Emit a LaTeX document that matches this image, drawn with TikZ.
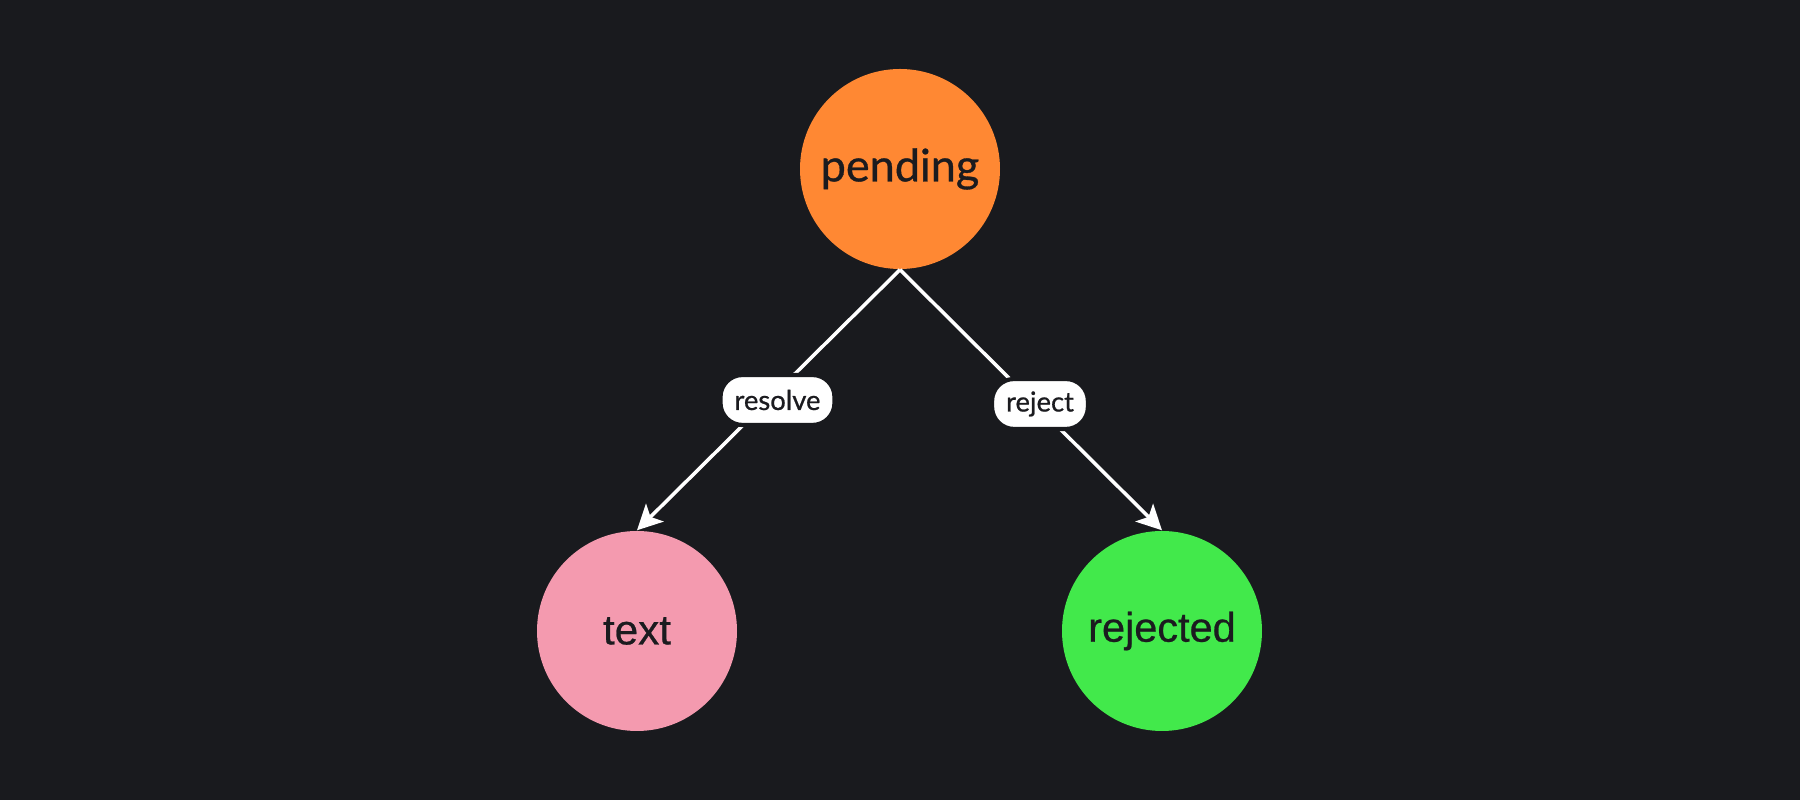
\documentclass[tikz,border=0pt]{standalone}
\usepackage{fontspec}
\setmainfont{Lato}[FakeBold=0.7]
\newfontfamily\arialfont{Liberation Sans}[FakeBold=0.6]
\usepackage{tikz}
\usetikzlibrary{arrows.meta,positioning}
\definecolor{bgdark}{RGB}{25,26,30}
\definecolor{inkdark}{RGB}{27,27,31}
\definecolor{pendingorange}{RGB}{255,136,51}
\definecolor{textpink}{RGB}{244,154,175}
\definecolor{rejectgreen}{RGB}{66,233,75}

\begin{document}
\begin{tikzpicture}[node distance=4cm,on grid,
  >={Stealth[length=2.5mm,width=2.5mm,inset=0.6mm]},
  promise/.style={circle,minimum size=2cm,inner sep=0pt,text=inkdark},
  arrowlabel/.style={fill=white,draw=bgdark,line width=1.2pt,rounded corners=2.2mm,
    minimum height=5mm,inner xsep=1.4mm,inner ysep=0pt,text=inkdark,
    font=\fontsize{7.8}{9}\selectfont}]
  \fill[bgdark] (0,0) rectangle (18,8);
  \node[promise,fill=pendingorange,font=\fontsize{12.8}{15}\selectfont] (pending) at (9,6.31) {pending};
  \node[promise,fill=textpink,font=\arialfont\fontsize{12}{14}\selectfont] (text) [below left=4.62cm and 2.63cm of pending] {text};
  \node[promise,fill=rejectgreen,font=\arialfont\fontsize{11.8}{14}\selectfont] (rejected) [below right=4.62cm and 2.62cm of pending] {rejected};

  \path[->,white,line width=1pt]
  (pending.south)
  edge node[arrowlabel,xshift=0.9mm] {resolve} (text.north)
  (pending.south)
  edge node[arrowlabel,xshift=0.9mm,yshift=-0.4mm] {reject} (rejected.north);
\end{tikzpicture}
\end{document}
